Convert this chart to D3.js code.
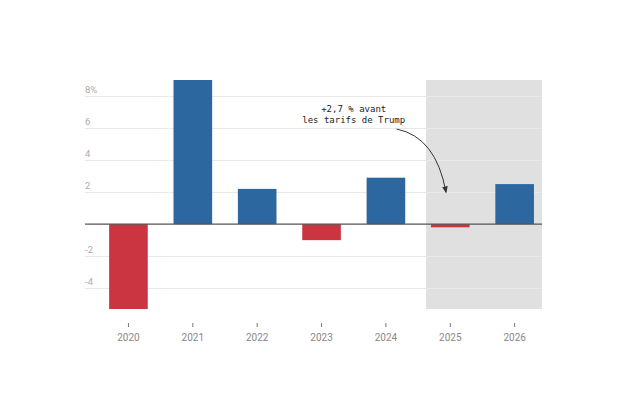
<!DOCTYPE html>
<html>
<head>
<meta charset="utf-8">
<script src="https://cdn.jsdelivr.net/npm/d3@7"></script>
<style>
  body { margin: 0; background: #fff; }
  svg { display: block; }
</style>
</head>
<body>
<svg id="svg_growth" width="624" height="416"></svg>
<script>
// Croissance annuelle, en %

var years = ["2020", "2021", "2022", "2023", "2024", "2025", "2026"];
var growth = [-5.3, 9.0, 2.2, -1.0, 2.9, -0.2, 2.5];
var yTicks = [-4, -2, 2, 4, 6, 8];
var shadedYears = ["2025", "2026"];
var noteLines = ["+2,7 % avant", "les tarifs de Trump"];

// note: "top" is taken by window.top, so use plot_* names
var svg = d3.select("#svg_growth"),
    plot_left = 85, plot_right = 542, plot_top = 80, plot_bottom = 309;

// Scales
var x = d3.scaleBand()
    .domain(years)
    .range([plot_left, plot_right])
    .paddingInner(0.4)
    .paddingOuter(0.25)
    .align(0.75);

var y = d3.scaleLinear()
    .domain([-5.3, 9])
    .range([plot_bottom, plot_top]);

var colour = function(v) { return v < 0 ? "#cb3441" : "#2c67a0"; };

// Shaded forecast years
svg.append("rect")
    .attr("x", x(shadedYears[0]) - 5)
    .attr("y", plot_top)
    .attr("width", plot_right - x(shadedYears[0]) + 5)
    .attr("height", plot_bottom - plot_top)
    .attr("fill", "#e0e0e0");

// Grid lines + labels
var grid = svg.append("g").selectAll("g")
    .data(yTicks)
    .enter().append("g");

grid.append("line")
    .attr("x1", plot_left)
    .attr("x2", plot_right)
    .attr("y1", function(d) { return Math.round(y(d)) + 0.5; })
    .attr("y2", function(d) { return Math.round(y(d)) + 0.5; })
    .attr("stroke", "#e9e9e9")
    .attr("stroke-width", 1);

grid.append("text")
    .attr("x", plot_left)
    .attr("y", function(d) { return y(d) - 3; })
    .attr("font-family", "Roboto, sans-serif")
    .attr("font-size", "9.5px")
    .attr("fill", "#ababab")
    .text(function(d, i) { return d + (i == yTicks.length - 1 ? "%" : ""); });

// Bars
svg.append("g").selectAll("rect")
    .data(years)
    .enter().append("rect")
      .attr("x", function(d) { return x(d); })
      .attr("y", function(d, i) { return y(Math.max(0, growth[i])); })
      .attr("width", x.bandwidth())
      .attr("height", function(d, i) { return Math.abs(y(growth[i]) - y(0)); })
      .attr("fill", function(d, i) { return colour(growth[i]); });

// Zero line
svg.append("line")
    .attr("x1", plot_left)
    .attr("x2", plot_right)
    .attr("y1", y(0))
    .attr("y2", y(0))
    .attr("stroke", "#555")
    .attr("stroke-width", 1.2);

// X axis
var xAxis = svg.append("g")
    .attr("transform", "translate(0,323)")
    .call(d3.axisBottom(x).tickSize(4).tickPadding(7));

xAxis.select(".domain").remove();
xAxis.selectAll(".tick line").attr("stroke", "#777");
xAxis.selectAll(".tick text")
    .attr("font-family", "Roboto, sans-serif")
    .attr("font-size", "10px")
    .attr("fill", "#888");

// Annotation
var noteX = (x("2023") + x("2024") + x.bandwidth()) / 2;

svg.append("text")
    .attr("x", noteX)
    .attr("y", y(7))
    .attr("text-anchor", "middle")
    .attr("font-family", "'DejaVu Sans Mono', monospace")
    .attr("font-size", "9px")
    .attr("fill", "#222")
  .selectAll("tspan")
    .data(noteLines)
    .enter().append("tspan")
      .attr("x", noteX)
      .attr("dy", function(d, i) { return i ? "1.2em" : 0; })
      .text(function(d) { return d; });

svg.append("defs").append("marker")
    .attr("id", "arrow")
    .attr("viewBox", "0 0 10 10")
    .attr("refX", 8)
    .attr("refY", 5)
    .attr("markerWidth", 7)
    .attr("markerHeight", 7)
    .attr("orient", "auto")
  .append("path")
    .attr("d", "M0,1 L10,5 L0,9 Z")
    .attr("fill", "#333");

var ax0 = noteX + 43, ay0 = y(7) + 17,
    ax1 = x("2025") + 15, ay1 = y(2);

svg.append("path")
    .attr("d", "M" + ax0 + "," + ay0 + " Q" + (ax1 - 10) + "," + (ay0 + 8) + " " + ax1 + "," + ay1)
    .attr("fill", "none")
    .attr("stroke", "#333")
    .attr("stroke-width", 1)
    .attr("marker-end", "url(#arrow)");
</script>
</body>
</html>
